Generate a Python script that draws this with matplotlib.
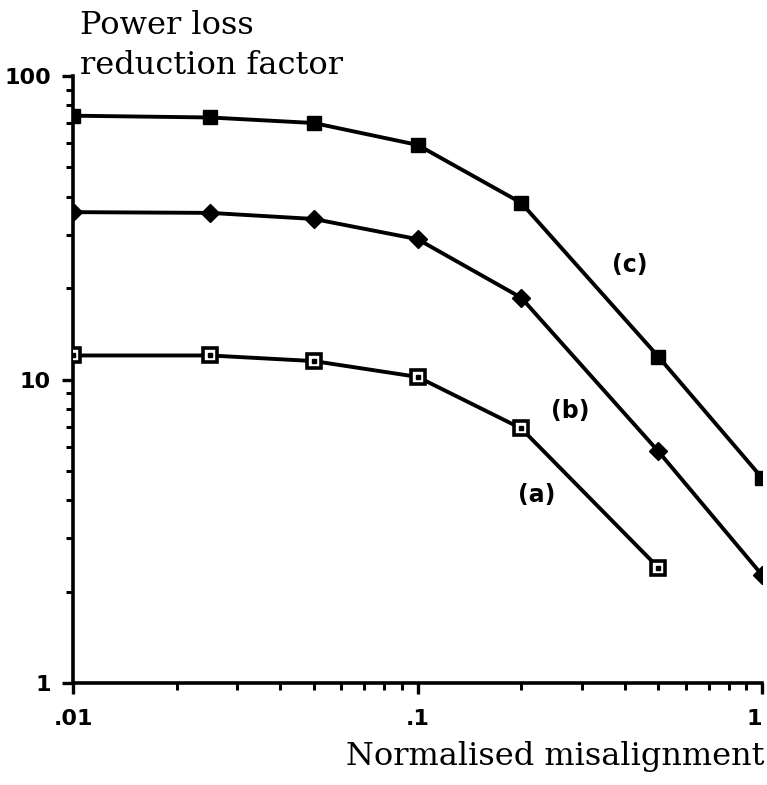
import matplotlib
matplotlib.use("Agg")
import matplotlib.pyplot as plt
from matplotlib.ticker import LogLocator, NullFormatter

x_vals = [0.01, 0.025, 0.05, 0.1, 0.2, 0.5, 1.0]
a_x = [0.01, 0.025, 0.05, 0.1, 0.2, 0.5]
a_vals = [12.0, 12.0, 11.5, 10.2, 6.9, 2.4]
b_vals = [35.6, 35.4, 33.8, 29.0, 18.6, 5.8, 2.27]
c_vals = [74.0, 73.0, 70.0, 59.3, 38.2, 11.9, 4.74]

xticks = [0.01, 0.1, 1]
xtick_labels = [".01", ".1", "1"]
yticks = [1, 10, 100]
ytick_labels = ["1", "10", "100"]

plt.rcParams["font.family"] = ["DejaVu Sans"]

fig = plt.figure(figsize=(7.67, 7.85), dpi=100)
ax = fig.add_axes([73/767, 102/785, (762-73)/767, (683-76)/785])
ax.set_xscale("log")
ax.set_yscale("log")

lw = 2.8
ax.plot(x_vals, c_vals, color="black", lw=lw, marker="s", ms=10.5,
        mfc="black", mec="black", zorder=3)
ax.plot(x_vals, b_vals, color="black", lw=lw, marker="D", ms=9.5,
        mfc="black", mec="black", zorder=3)
ax.plot(a_x, a_vals, color="black", lw=lw, marker="s", ms=10.5,
        mfc="white", mec="black", mew=2.6, zorder=3)
ax.plot(a_x, a_vals, linestyle="none", marker="s", ms=2.5,
        mfc="black", mec="black", zorder=4)

for s in ["top", "right"]:
    ax.spines[s].set_visible(False)
for s in ["left", "bottom"]:
    ax.spines[s].set_linewidth(2.6)

tick_font = dict(fontsize=16, fontweight="bold", family="DejaVu Sans")
ax.set_xticks(xticks, labels=xtick_labels, **tick_font)
ax.set_yticks(yticks, labels=ytick_labels, **tick_font)
ax.xaxis.set_minor_locator(LogLocator(base=10, subs=range(2, 10)))
ax.yaxis.set_minor_locator(LogLocator(base=10, subs=range(2, 10)))
ax.xaxis.set_minor_formatter(NullFormatter())
ax.yaxis.set_minor_formatter(NullFormatter())
ax.set_xlim(0.01, 1)
ax.set_ylim(1, 100)

ax.tick_params(which="major", direction="out", length=8, width=2.4)
ax.tick_params(axis="y", which="major", pad=8)
ax.tick_params(axis="x", which="major", pad=11)
ax.tick_params(which="minor", direction="out", length=5, width=2.2)

xlabs = ax.get_xticklabels()
xlabs[-1].set_horizontalalignment("right")

lab_kw = dict(fontsize=17, fontweight="bold", ha="center", va="center")
ax.text(0.414, 23.8, "(c)", **lab_kw)
ax.text(0.277, 7.9, "(b)", **lab_kw)
ax.text(0.222, 4.16, "(a)", **lab_kw)

fig.text(80/767, 1 - 26/785, "Power loss", fontsize=23, family="DejaVu Serif",
         ha="left", va="center")
fig.text(80/767, 1 - 66/785, "reduction factor", fontsize=23, family="DejaVu Serif",
         ha="left", va="center")
fig.text(764/767, 1 - 757/785, "Normalised misalignment", fontsize=23,
         family="DejaVu Serif", ha="right", va="center")

fig.savefig("out.png", dpi=100)
